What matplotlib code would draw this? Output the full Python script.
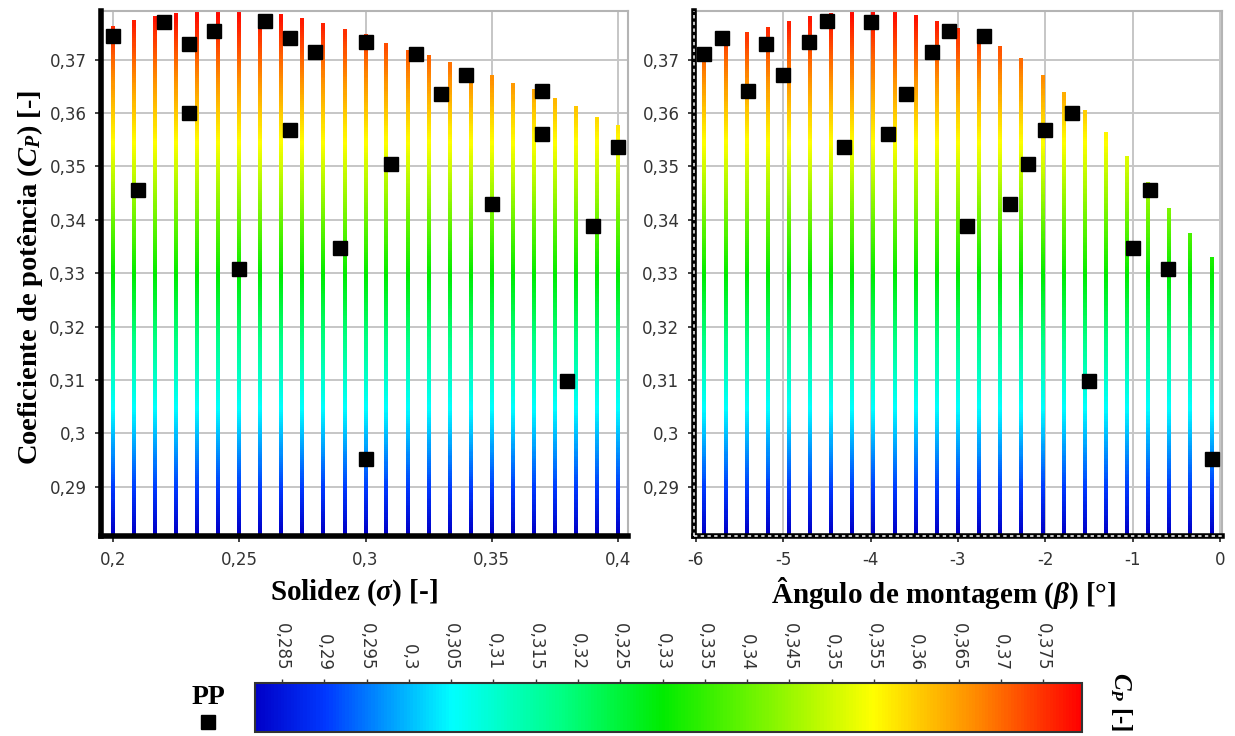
import numpy as np
import matplotlib
matplotlib.use("Agg")
import matplotlib.pyplot as plt
from matplotlib.colors import LinearSegmentedColormap, Normalize
from matplotlib.cm import ScalarMappable
from matplotlib.collections import LineCollection
from matplotlib.lines import Line2D

plt.rcParams["mathtext.fontset"] = "custom"
plt.rcParams["mathtext.rm"] = "Liberation Serif:bold"
plt.rcParams["mathtext.bf"] = "Liberation Serif:bold"
plt.rcParams["mathtext.it"] = "Liberation Serif:italic:bold"

# ---- response curves: max Cp reached at each level of the factor ----
sigma_levels = [0.2000, 0.2083, 0.2167, 0.2250, 0.2333, 0.2417, 0.2500, 0.2583,
                0.2667, 0.2750, 0.2833, 0.2917, 0.3000, 0.3083, 0.3167, 0.3250,
                0.3333, 0.3417, 0.3500, 0.3583, 0.3667, 0.3750, 0.3833, 0.3917,
                0.4000]
cp_top_sigma = [0.3759, 0.3770, 0.3778, 0.3784, 0.3790, 0.3790, 0.3790, 0.3778,
                0.3781, 0.3774, 0.3764, 0.3754, 0.3744, 0.3727, 0.3714, 0.3704,
                0.3691, 0.3676, 0.3667, 0.3653, 0.3641, 0.3624, 0.3609, 0.3589,
                0.3573]

beta_levels = [-5.900, -5.658, -5.417, -5.175, -4.933, -4.692, -4.450, -4.208,
               -3.967, -3.725, -3.483, -3.242, -3.000, -2.758, -2.517, -2.275,
               -2.033, -1.792, -1.550, -1.308, -1.067, -0.825, -0.583, -0.342,
               -0.100]
cp_top_beta = [0.3700, 0.3734, 0.3748, 0.3758, 0.3769, 0.3778, 0.3783, 0.3789,
               0.3789, 0.3785, 0.3779, 0.3769, 0.3755, 0.3742, 0.3721, 0.3699,
               0.3668, 0.3636, 0.3601, 0.3560, 0.3516, 0.3468, 0.3419, 0.3372,
               0.3326]

# ---- planned points (PP): solidity, pitch angle, Cp ----
pp_sigma = [0.30, 0.38, 0.25, 0.29, 0.39, 0.35, 0.21, 0.31, 0.40, 0.37, 0.27, 0.23,
            0.33, 0.37, 0.34, 0.32, 0.28, 0.23, 0.30, 0.27, 0.20, 0.24, 0.22, 0.26]
pp_beta = [-0.1, -1.5, -0.6, -1.0, -2.9, -2.4, -0.8, -2.2, -4.3, -3.8, -2.0, -1.7,
           -3.6, -5.4, -5.0, -5.9, -3.3, -5.2, -4.7, -5.7, -2.7, -3.1, -4.0, -4.5]
pp_cp = [0.2952, 0.3099, 0.3307, 0.3348, 0.3388, 0.3430, 0.3455, 0.3505, 0.3536,
         0.3560, 0.3569, 0.3600, 0.3636, 0.3641, 0.3671, 0.3710, 0.3714, 0.3730,
         0.3733, 0.3740, 0.3744, 0.3753, 0.3771, 0.3773]

yticks = [0.29, 0.30, 0.31, 0.32, 0.33, 0.34, 0.35, 0.36, 0.37]
sigma_ticks = [0.2, 0.25, 0.3, 0.35, 0.4]
beta_ticks = [-6, -5, -4, -3, -2, -1, 0]
cb_ticks = [0.285, 0.29, 0.295, 0.3, 0.305, 0.31, 0.315, 0.32, 0.325, 0.33,
            0.335, 0.34, 0.345, 0.35, 0.355, 0.36, 0.365, 0.37, 0.375]

cp_min, cp_max = 0.2818, 0.3796
y_lo, y_hi = 0.2808, 0.3791

# colour scale: blue -> cyan -> green -> yellow -> red
cmap_nodes = [(0.2818, "#0000c8"), (0.2900, "#0038ff"), (0.3050, "#00ffff"),
              (0.3180, "#00ff84"), (0.3300, "#00ec00"), (0.3550, "#ffff00"),
              (0.3670, "#ff8c00"), (0.3796, "#ff0000")]
cmap = LinearSegmentedColormap.from_list(
    "cp", [((v - cp_min) / (cp_max - cp_min), c) for v, c in cmap_nodes])
norm = Normalize(cp_min, cp_max)


def comma(v):
    s = f"{v:.3f}".rstrip("0").rstrip(".")
    return s.replace(".", ",")


W, H = 1235, 736
fig = plt.figure(figsize=(W / 100, H / 100), dpi=100)


def box(x0, y0, x1, y1):
    return [x0 / W, 1 - y1 / H, (x1 - x0) / W, (y1 - y0) / H]


def gradient_stems(ax, xs, tops, n=260):
    """Vertical stems from the bottom of the axis up to each top value,
    coloured along their length by Cp."""
    segs, vals = [], []
    for x, top in zip(xs, tops):
        edges = np.linspace(y_lo, top, n + 1)
        for a, b in zip(edges[:-1], edges[1:]):
            segs.append([(x, a), (x, b)])
            vals.append(0.5 * (a + b))
    lc = LineCollection(segs, cmap=cmap, norm=norm, linewidths=2.6,
                        capstyle="projecting", antialiaseds=False, zorder=2)
    lc.set_array(np.asarray(vals))
    ax.add_collection(lc)


def draw_panel(ax, xs, tops, px, pcp, xlim, xticks, xlabels, dashed):
    ax.set_facecolor("white")
    gradient_stems(ax, xs, tops)
    ax.plot(px, pcp, ls="none", marker="s", ms=10.5, color="black", zorder=4)
    ax.set_xlim(*xlim)
    ax.set_ylim(y_lo, y_hi)
    ax.set_xticks(xticks)
    ax.set_xticklabels(xlabels)
    ax.set_yticks(yticks)
    ax.set_yticklabels([comma(v) for v in yticks])
    ax.grid(True, color="#c6c6c6", lw=1.4, zorder=0)
    ax.set_axisbelow(True)
    for s in ("top", "right"):
        ax.spines[s].set_color("#b4b4b4")
        ax.spines[s].set_linewidth(1.5)
    for s in ("left", "bottom"):
        ax.spines[s].set_color("black")
        ax.spines[s].set_linewidth(4.0)
        ax.spines[s].set_zorder(5)
    ax.tick_params(axis="both", direction="out", length=4.5, width=1.3,
                   color="#333333", labelsize=12, labelcolor="#333333", pad=6)
    if dashed:
        for xx, yy in (([0, 0], [0, 1]), ([0, 1], [0, 0])):
            ax.plot(xx, yy, transform=ax.transAxes, color="white", lw=1.1,
                    dashes=(2.2, 2.2), clip_on=False, zorder=6)


axL = fig.add_axes(box(101, 11, 628, 536))
draw_panel(axL, sigma_levels, cp_top_sigma, pp_sigma, pp_cp, (0.1952, 0.4040),
           sigma_ticks, [comma(v) for v in sigma_ticks], dashed=False)

axR = fig.add_axes(box(694, 11, 1222, 536))
draw_panel(axR, beta_levels, cp_top_beta, pp_beta, pp_cp, (-6.02, 0.02),
           beta_ticks, [str(v) for v in beta_ticks], dashed=True)

serif = dict(family="Liberation Serif", fontweight="bold", color="black")
fig.text(30 / W, 1 - 277 / H, r"Coeficiente de potência ($C_P$) [-]",
         rotation=90, ha="center", va="center", fontsize=20.5, **serif)
fig.text(354 / W, 1 - 593 / H, r"Solidez ($\sigma$) [-]", ha="center",
         va="center", fontsize=21, **serif)
fig.text(944 / W, 1 - 593 / H, r"Ângulo de montagem ($\beta$) [°]",
         ha="center", va="center", fontsize=21, **serif)

# colour bar
cax = fig.add_axes(box(255, 683, 1082, 732))
cb = fig.colorbar(ScalarMappable(norm=norm, cmap=cmap), cax=cax,
                  orientation="horizontal", ticks=cb_ticks)
cax.xaxis.set_ticks_position("top")
cax.set_xticklabels([comma(v) for v in cb_ticks], rotation=-90)
cax.tick_params(length=3, width=1, color="#333333", labelsize=12,
                labelcolor="#333333", pad=6)
cb.outline.set_linewidth(1.5)
cb.outline.set_edgecolor("#333333")

fig.text(1121 / W, 1 - 702 / H, r"$C_P$ [-]", rotation=-90, ha="center",
         va="center", fontsize=18, **serif)

# legend for planned points
fig.text(208 / W, 1 - 697 / H, "PP", ha="center", va="center", fontsize=20,
         **serif)
fig.add_artist(Line2D([208 / W], [1 - 722 / H], marker="s", ms=9.5,
                      color="black", ls="none", transform=fig.transFigure))

fig.savefig("out.png", dpi=100, facecolor="white")
